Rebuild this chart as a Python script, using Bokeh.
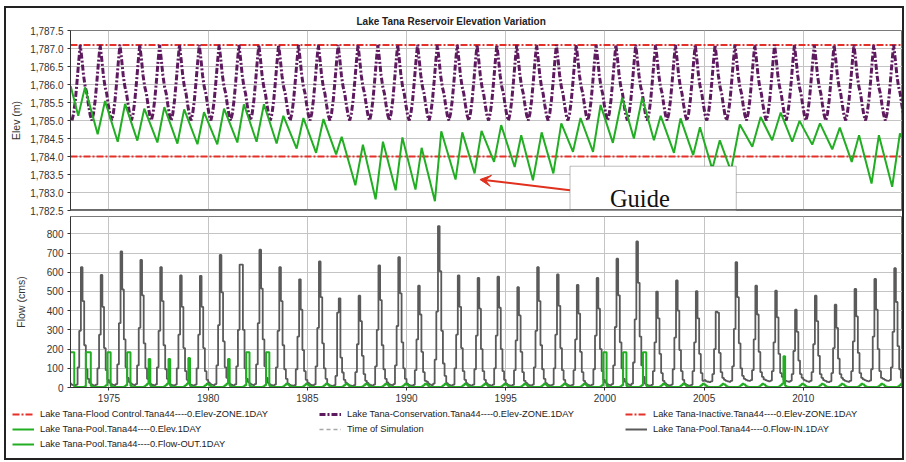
from bokeh.plotting import figure
from bokeh.models import (Range1d, FixedTicker, NumeralTickFormatter, Span, BoxAnnotation,
                          Arrow, VeeHead, Label, Legend, LegendItem)
from bokeh.layouts import column
from bokeh.embed import file_html
from bokeh.resources import INLINE

# ---------------- data ----------------
years = list(range(1973, 2015))
tick_years = [1975, 1980, 1985, 1990, 1995, 2000, 2005, 2010]
elev_ticks = [1782.5, 1783.0, 1783.5, 1784.0, 1784.5, 1785.0, 1785.5, 1786.0, 1786.5, 1787.0, 1787.5]
flow_ticks = [0, 100, 200, 300, 400, 500, 600, 700, 800]

flood_control_elev = 1787.1
inactive_elev = 1784.0

# guide (conservation) curve: one yearly pattern (fraction of year, elevation)
cons_offset = [0.136, 0.22, 0.304, 0.388, 0.472, 0.552, 0.632, 0.716, 0.80, 0.884, 0.968, 1.052]
cons_elev = [1785.0, 1785.2, 1785.56, 1786.07, 1786.63, 1787.1, 1786.72, 1786.26, 1785.94, 1785.75, 1785.43, 1785.15]

# pool elevation turning points
pool_t = [1973.07, 1973.45, 1973.79, 1974.43, 1974.80, 1975.44, 1975.81, 1976.43, 1976.78, 1977.44,
          1977.79, 1978.45, 1978.79, 1979.46, 1979.79, 1980.46, 1980.80, 1981.47, 1981.80, 1982.44,
          1982.81, 1983.45, 1983.79, 1984.46, 1984.80, 1985.44, 1985.81, 1986.45, 1986.73, 1987.42,
          1987.80, 1988.44, 1988.81, 1989.45, 1989.79, 1990.45, 1990.76, 1991.43, 1991.75, 1992.47,
          1992.81, 1993.43, 1993.78, 1994.41, 1994.77, 1995.45, 1995.78, 1996.37, 1996.81, 1997.40,
          1997.80, 1998.39, 1998.77, 1999.40, 1999.78, 2000.40, 2000.87, 2001.46, 2001.88, 2002.47,
          2002.81, 2003.48, 2003.81, 2004.45, 2004.79, 2005.41, 2005.79, 2006.35, 2006.80, 2007.43,
          2007.85, 2008.43, 2008.86, 2009.44, 2009.81, 2010.45, 2010.84, 2011.46, 2011.84, 2012.44,
          2012.81, 2013.44, 2013.81, 2014.48, 2014.87, 2015.0]
pool_elev = [1785.95, 1785.13, 1785.92, 1784.62, 1785.54, 1784.41, 1785.46, 1784.44, 1785.33, 1784.39,
             1785.37, 1784.36, 1785.31, 1784.34, 1785.23, 1784.34, 1785.33, 1784.39, 1785.45, 1784.41,
             1785.45, 1784.36, 1785.13, 1784.22, 1785.07, 1784.10, 1785.04, 1784.06, 1784.55, 1783.20,
             1784.33, 1782.81, 1784.41, 1783.06, 1784.53, 1783.08, 1784.24, 1782.76, 1784.70, 1783.36,
             1784.67, 1783.53, 1784.71, 1783.85, 1784.87, 1783.71, 1784.59, 1783.34, 1784.67, 1783.53,
             1784.92, 1784.13, 1785.07, 1784.13, 1785.43, 1784.38, 1785.63, 1784.50, 1785.63, 1784.45,
             1785.13, 1784.10, 1785.06, 1784.04, 1784.81, 1783.65, 1784.45, 1783.60, 1784.89, 1784.27,
             1785.10, 1784.45, 1785.22, 1784.41, 1784.99, 1784.33, 1784.92, 1784.20, 1784.80, 1783.85,
             1784.59, 1783.25, 1784.59, 1783.16, 1784.64, 1784.50]

# monthly inflow (cms), one list per calendar month, 1973..2014
in_jan = [22, 24, 25, 28, 25, 22, 22, 26, 25, 28, 24, 20, 25, 18, 18, 24, 26, 20, 30, 22, 22, 22, 20, 24, 22, 20, 22, 26, 30, 20, 22, 20,
          38, 40, 45, 42, 40, 40, 38, 40, 42, 45]
in_feb = [15, 16, 18, 20, 17, 15, 15, 18, 17, 20, 16, 14, 17, 12, 12, 16, 18, 14, 20, 15, 15, 15, 14, 16, 15, 14, 15, 18, 20, 14, 15, 14,
          32, 35, 40, 38, 35, 36, 34, 35, 38, 40]
in_mar = [12, 12, 14, 15, 13, 12, 12, 14, 13, 15, 12, 11, 13, 10, 10, 12, 14, 11, 15, 12, 12, 12, 11, 12, 12, 11, 12, 14, 15, 11, 12, 11,
          30, 32, 36, 34, 32, 32, 30, 32, 34, 36]
in_apr = [10, 10, 12, 12, 11, 10, 10, 12, 11, 12, 10, 9, 11, 8, 8, 10, 12, 9, 12, 10, 10, 10, 9, 10, 10, 9, 10, 12, 12, 9, 10, 9,
          28, 30, 34, 32, 30, 30, 28, 30, 32, 34]
in_may = [15, 15, 18, 18, 16, 15, 15, 18, 16, 18, 15, 12, 16, 12, 12, 15, 18, 14, 20, 15, 15, 15, 14, 15, 15, 14, 15, 18, 20, 14, 15, 14,
          32, 35, 38, 36, 35, 34, 32, 35, 36, 38]
in_jun = [105, 100, 120, 115, 105, 100, 100, 115, 110, 120, 105, 95, 110, 60, 80, 110, 115, 90, 145, 100, 95, 100, 90, 105, 100, 90, 95, 115, 130, 85, 95, 85,
          70, 110, 90, 85, 70, 80, 75, 85, 95, 105]
in_jul = [295, 275, 335, 310, 295, 275, 275, 325, 300, 335, 295, 265, 310, 390, 225, 300, 320, 250, 395, 275, 270, 270, 245, 295, 275, 250, 270, 315, 355, 235, 260, 235,
          200, 305, 250, 235, 190, 225, 205, 240, 265, 290]
in_aug = [626, 586, 708, 664, 626, 583, 581, 690, 640, 717, 626, 563, 656, 464, 478, 635, 678, 530, 840, 583, 570, 577, 522, 626, 588, 534, 570, 670, 760, 499, 557, 501,
          395, 652, 530, 504, 405, 478, 431, 513, 565, 621]
in_sep = [450, 420, 510, 480, 450, 420, 420, 495, 640, 515, 450, 405, 470, 156, 345, 455, 490, 380, 605, 420, 410, 415, 375, 450, 425, 385, 410, 480, 545, 360, 400, 360,
          390, 470, 380, 365, 290, 345, 310, 370, 405, 445]
in_oct = [220, 205, 250, 230, 220, 205, 205, 240, 300, 250, 220, 195, 230, 78, 165, 220, 235, 185, 295, 205, 200, 200, 185, 220, 205, 185, 200, 235, 265, 175, 195, 175,
          180, 230, 185, 175, 140, 165, 150, 180, 200, 215]
in_nov = [95, 90, 105, 100, 95, 85, 85, 105, 100, 110, 95, 85, 100, 40, 70, 95, 100, 80, 125, 85, 85, 85, 80, 95, 90, 80, 85, 100, 115, 75, 85, 75,
          80, 100, 80, 75, 70, 70, 70, 75, 85, 95]
in_dec = [45, 40, 50, 45, 45, 40, 40, 50, 45, 50, 45, 40, 45, 25, 35, 45, 45, 35, 60, 40, 40, 40, 35, 45, 40, 35, 40, 45, 55, 35, 40, 35,
          50, 60, 55, 55, 50, 50, 50, 50, 50, 50]

# monthly outflow (cms): usual release by calendar month, plus spill months
out_base = [15, 8, 4, 3, 3, 3, 3, 3, 3, 5, 12, 20]
spill_year = [1973, 1973, 1973, 1973, 1973, 1974, 1974, 1975, 1975, 1976, 1977, 1978, 1979, 1981, 1981,
              1982, 1982, 1983, 1999, 2000, 2000, 2001, 2001, 2002, 2009]
spill_month = [1, 2, 3, 11, 12, 1, 12, 1, 12, 1, 1, 1, 1, 1, 12, 1, 12, 1, 12, 1, 12, 1, 12, 1, 1]
spill_flow = [183, 183, 183, 183, 183, 183, 183, 183, 183, 183, 148, 148, 153, 148, 183,
              183, 183, 183, 183, 183, 183, 183, 183, 183, 162]

# ---------------- assemble series ----------------
cons_t, cons_y = [], []
for yr in years:
    for off, ev in zip(cons_offset, cons_elev):
        cons_t.append(yr + off)
        cons_y.append(ev)

monthly_in = [in_jan, in_feb, in_mar, in_apr, in_may, in_jun, in_jul, in_aug, in_sep, in_oct, in_nov, in_dec]
spills = {(y, m): q for y, m, q in zip(spill_year, spill_month, spill_flow)}
t_m, q_in, q_out = [], [], []
for i, yr in enumerate(years):
    for m in range(12):
        t_m.append(yr + m / 12.0)
        q_in.append(monthly_in[m][i])
        q_out.append(spills.get((yr, m + 1), out_base[m]))
t_m.append(2015.0)
q_in.append(q_in[-1])
q_out.append(q_out[-1])

# ---------------- styles ----------------
RED = "#E5302A"
PURPLE = "#5E1A5E"
GREEN = "#22AE22"
GRAY = "#5A5A5A"
GRID = "#C4C4C4"
FONT = "Liberation Sans"
W = 896
MBL = 64
X0, X1 = 1973.06, 2015.0
NAN = float("nan")


def style_axes(p):
    p.background_fill_color = "white"
    p.border_fill_color = "white"
    p.outline_line_color = "#7A7A7A"
    p.outline_line_width = 1
    for ax in p.yaxis:
        ax.major_tick_out = 3
        ax.major_tick_in = 0
        ax.minor_tick_line_color = None
        ax.axis_line_color = "#333333"
        ax.major_tick_line_color = "#333333"
        ax.major_label_text_font = FONT
        ax.major_label_text_font_size = "10px"
        ax.major_label_text_color = "#333333"
        ax.major_label_standoff = 4
        ax.axis_label_text_font = FONT
        ax.axis_label_text_font_size = "10.5px"
        ax.axis_label_text_font_style = "normal"
        ax.axis_label_text_color = "#333333"
    for g in p.grid:
        g.grid_line_color = GRID
        g.grid_line_width = 1


# ---------------- top: elevation ----------------
p1 = figure(width=W, height=208, x_range=Range1d(X0, X1), y_range=Range1d(1782.5, 1787.5),
            output_backend="svg", toolbar_location=None, x_axis_location=None,
            min_border_left=MBL, min_border_right=0, min_border_top=22, min_border_bottom=6,
            title="Lake Tana Reservoir Elevation Variation")
p1.title.align = "left"
p1.title.offset = 286
p1.title.standoff = 8
p1.title.text_font = FONT
p1.title.text_font_size = "10px"
p1.title.text_font_style = "bold"
p1.title.text_color = "#222222"
style_axes(p1)
p1.yaxis.ticker = FixedTicker(ticks=elev_ticks)
p1.yaxis.formatter = NumeralTickFormatter(format="0,0.0")
p1.yaxis.axis_label = "Elev (m)"
p1.yaxis.axis_label_standoff = 5
p1.xgrid.ticker = FixedTicker(ticks=tick_years)
p1.ygrid.ticker = FixedTicker(ticks=elev_ticks)

p1.line([X0, X1], [flood_control_elev, flood_control_elev], line_color=RED, line_width=2, line_dash="7 2 2 2")
p1.line(cons_t, cons_y, line_color=PURPLE, line_width=3, line_dash="6 2 2 2")
p1.line([X0, X1], [inactive_elev, inactive_elev], line_color=RED, line_width=2, line_dash="7 2 2 2")
p1.line(pool_t, pool_elev, line_color=GREEN, line_width=2)

# annotation box with arrow
p1.add_layout(BoxAnnotation(left=1998.24, right=2006.62, bottom=1782.45, top=1783.73,
                            fill_color="white", fill_alpha=1.0, line_color="#222222", line_width=1))
p1.add_layout(Arrow(x_start=1998.24, y_start=1783.064, x_end=1993.70, y_end=1783.36,
                    line_color="#E0301E", line_width=2,
                    end=VeeHead(size=11, fill_color="#E0301E", line_color="#E0301E")))
p1.add_layout(Label(x=2000.25, y=1782.83, text="Guide", text_font="Liberation Serif",
                    text_font_size="24.5px", text_color="#111111", text_baseline="alphabetic"))
p1.add_layout(Span(location=1782.5, dimension="width", line_color="#6B6B6B", line_width=3))

# ---------------- bottom: flow ----------------
p2 = figure(width=W, height=191, x_range=p1.x_range, y_range=Range1d(0, 890),
            output_backend="svg", toolbar_location=None,
            min_border_left=MBL, min_border_right=0, min_border_top=0, min_border_bottom=20)
style_axes(p2)
p2.yaxis.ticker = FixedTicker(ticks=flow_ticks)
p2.yaxis.axis_label = "Flow (cms)"
p2.yaxis.axis_label_standoff = 17
p2.xaxis.ticker = FixedTicker(ticks=tick_years)
p2.xaxis.major_tick_out = 3
p2.xaxis.major_tick_in = 0
p2.xaxis.minor_tick_line_color = None
p2.xaxis.axis_line_color = "#333333"
p2.xaxis.major_tick_line_color = "#333333"
p2.xaxis.major_label_text_font = FONT
p2.xaxis.major_label_text_font_size = "10px"
p2.xaxis.major_label_text_color = "#333333"
p2.xaxis.major_label_standoff = 3
p2.xgrid.ticker = FixedTicker(ticks=tick_years)
p2.ygrid.ticker = FixedTicker(ticks=flow_ticks)

p2.step(t_m, q_in, mode="after", line_color=GRAY, line_width=1.8)
p2.step(t_m, q_out, mode="after", line_color=GREEN, line_width=2)

# ---------------- legend strip ----------------
LH = 51
p3 = figure(width=W, height=LH, x_range=Range1d(0, 1), y_range=Range1d(0, 1),
            output_backend="svg", toolbar_location=None, x_axis_location=None, y_axis_location=None,
            min_border_left=0, min_border_right=0, min_border_top=0, min_border_bottom=0)
p3.frame_align = False
p3.outline_line_color = None
p3.grid.visible = False
p3.border_fill_color = "white"

# legend-only proxies (no visible data)
r_flood = p3.line([NAN], [NAN], line_color=RED, line_width=2, line_dash="7 2 2 2")
r_cons = p3.line([NAN], [NAN], line_color=PURPLE, line_width=3, line_dash="6 2 2 2")
r_inact = p3.line([NAN], [NAN], line_color=RED, line_width=2, line_dash="7 2 2 2")
r_pool = p3.line([NAN], [NAN], line_color=GREEN, line_width=2)
r_time = p3.line([NAN], [NAN], line_color="#A8A8A8", line_width=1.5, line_dash="4 3")
r_in = p3.line([NAN], [NAN], line_color=GRAY, line_width=2)
r_out = p3.line([NAN], [NAN], line_color=GREEN, line_width=2)

cols = [
    (6, [("Lake Tana-Flood Control.Tana44----0.Elev-ZONE.1DAY", r_flood),
         ("Lake Tana-Pool.Tana44----0.Elev.1DAY", r_pool),
         ("Lake Tana-Pool.Tana44----0.Flow-OUT.1DAY", r_out)]),
    (313, [("Lake Tana-Conservation.Tana44----0.Elev-ZONE.1DAY", r_cons),
           ("Time of Simulation", r_time)]),
    (619, [("Lake Tana-Inactive.Tana44----0.Elev-ZONE.1DAY", r_inact),
           ("Lake Tana-Pool.Tana44----0.Flow-IN.1DAY", r_in)]),
]
for x, entries in cols:
    h = len(entries) * 14 + (len(entries) - 1) * 1
    lg = Legend(items=[LegendItem(label=lab, renderers=[r]) for lab, r in entries],
                location=(x, LH - h), padding=0, margin=0, spacing=1,
                label_height=14, glyph_height=14, glyph_width=22, label_standoff=6,
                label_text_font=FONT, label_text_font_size="9.3px", label_text_color="#222222",
                border_line_color=None, background_fill_alpha=0)
    p3.add_layout(lg, "center")

layout = column(p1, p2, p3, margin=(6, 0, 0, 4), styles={"border": "2px solid #222222"})
open("out.html", "w").write(file_html(layout, INLINE))
